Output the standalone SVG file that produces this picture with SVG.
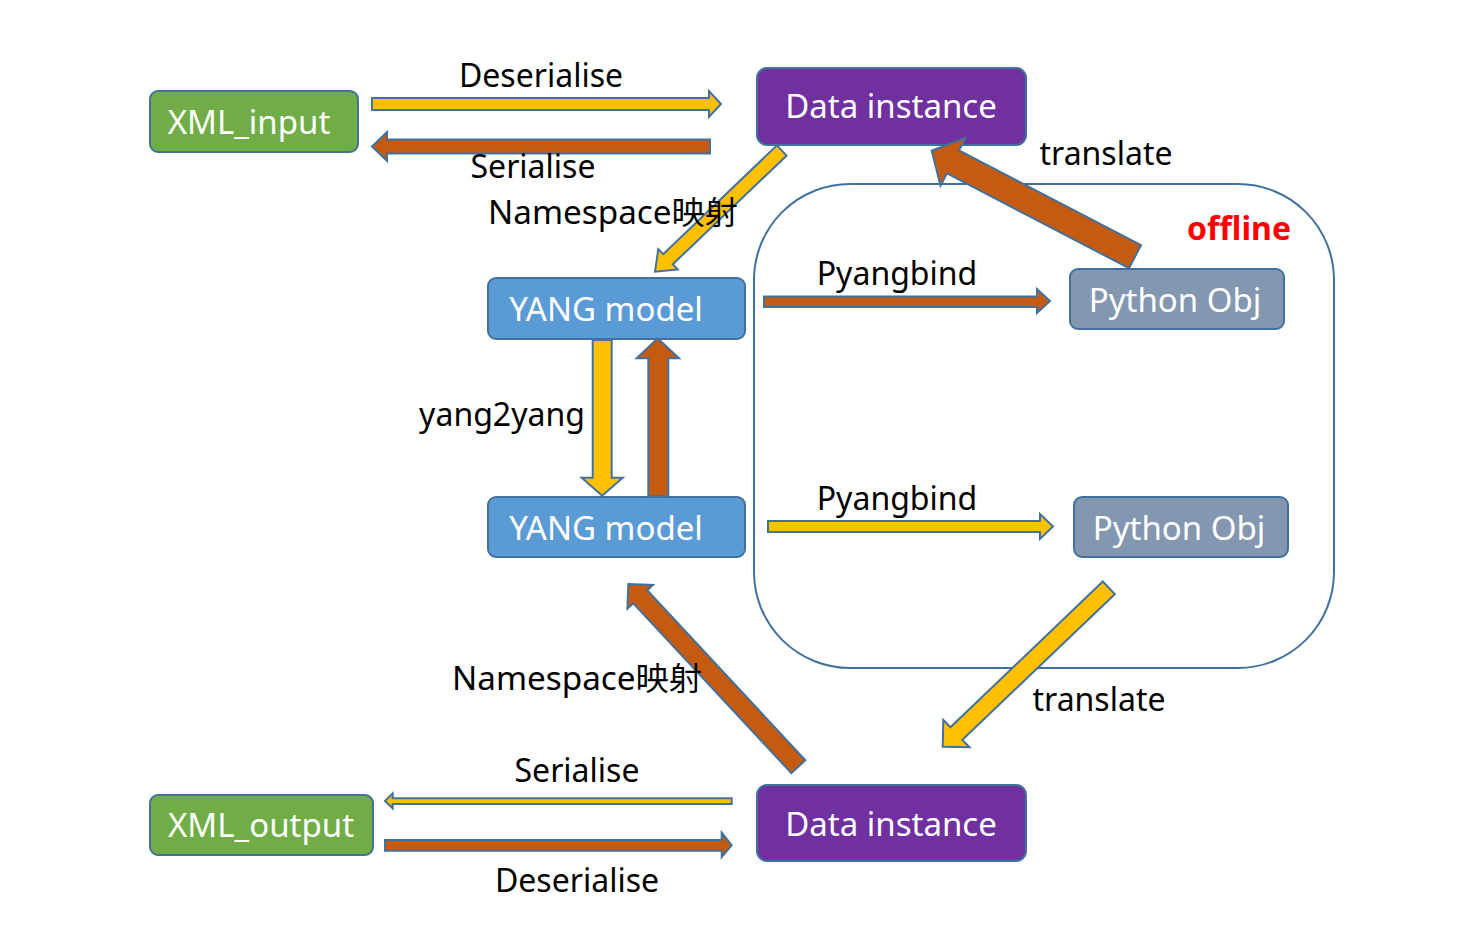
<svg xmlns="http://www.w3.org/2000/svg" width="1468" height="936" viewBox="0 0 1468 936">
<style>
.node{stroke:#41719C;stroke-width:2}
.g{fill:#70AD47}.p{fill:#7030A0}.b{fill:#5B9BD5}.s{fill:#8497B0}
.nt{font-family:"Noto Sans","Noto Sans CJK SC",sans-serif;font-size:33px;fill:#FFFFFF;text-anchor:middle}
.lb{font-family:"Noto Sans","Noto Sans CJK SC",sans-serif;font-size:32px;fill:#000000;text-anchor:middle}
.y{fill:#FFC000;stroke:#41719C;stroke-width:2;stroke-linejoin:miter}
.r{fill:#C55A11;stroke:#41719C;stroke-width:2;stroke-linejoin:miter}
</style>
<rect x="754" y="184" width="580" height="484" rx="96" ry="96" fill="none" stroke="#41719C" stroke-width="2"/>
<g id="xml_input"><rect class="node g" x="150" y="91" width="208" height="61" rx="8"/><text class="nt" x="249" y="134">XML_input</text></g>
<g id="data_instance_top"><rect class="node p" x="757" y="68" width="269" height="77" rx="10"/><text class="nt" x="891" y="118">Data instance</text></g>
<g id="yang_model_1"><rect class="node b" x="488" y="278" width="257" height="61" rx="8"/><text class="nt" x="606" y="321">YANG model</text></g>
<g id="yang_model_2"><rect class="node b" x="488" y="497" width="257" height="60" rx="8"/><text class="nt" x="606" y="540">YANG model</text></g>
<g id="python_obj_1"><rect class="node s" x="1070" y="269" width="214" height="60" rx="8"/><text class="nt" x="1175" y="312">Python Obj</text></g>
<g id="python_obj_2"><rect class="node s" x="1074" y="497" width="214" height="60" rx="8"/><text class="nt" x="1179" y="540">Python Obj</text></g>
<g id="xml_output"><rect class="node g" x="150" y="795" width="223" height="60" rx="8"/><text class="nt" x="261" y="837">XML_output</text></g>
<g id="data_instance_bottom"><rect class="node p" x="757" y="785" width="269" height="76" rx="10"/><text class="nt" x="891" y="836">Data instance</text></g>
<g id="connectors">
<polygon class="y" points="372,98 709,98 709,91 721,104 709,117 709,110 372,110"/>
<polygon class="r" points="710,139.5 387,139.5 387,132 372,146.5 387,161 387,153.5 710,153.5"/>
<polygon class="y" points="776.9,145.4 663.2,254.2 658.3,249.1 655,271.7 677.7,269.4 672.8,264.3 786.5,155.6"/>
<polygon class="r" points="1141,245.2 959,150.3 965.5,137.9 931.7,150.7 940.5,185.7 947,173.3 1129,268.2"/>
<polygon class="r" points="764,296.5 1037,296.5 1037,289 1050,301 1037,313 1037,307 764,307"/>
<polygon class="y" points="768,521 1040,521 1040,514 1053,526.5 1040,539 1040,532 768,532"/>
<polygon class="y" points="592.7,340 611.7,340 611.7,477.7 622.7,477.7 602.2,495.7 581.7,477.7 592.7,477.7"/>
<polygon class="r" points="648.3,496 648.3,358.3 636.7,358.3 657.7,338.3 679,358.3 668.3,358.3 668.3,496"/>
<polygon class="r" points="805.3,760.2 647.2,590.3 653,584.9 628.3,584 627.4,608.7 633.3,603.3 791.4,773.2"/>
<polygon class="y" points="1102.8,581.5 950.4,727.3 943.3,719.9 942.7,746.7 969.5,747.3 962.4,739.9 1114.8,594.1"/>
<polygon class="y" points="731.7,798.3 392.7,798.3 392.7,793.3 385,801 392.7,808.3 392.7,804 731.7,804"/>
<polygon class="r" points="385,840 721.7,840 721.7,832.7 731.7,845.3 721.7,857 721.7,850.7 385,850.7"/>
</g>
<g id="labels">
<text class="lb" x="541" y="87">Deserialise</text>
<text class="lb" x="533" y="178">Serialise</text>
<text class="lb" x="613" y="224" textLength="250" lengthAdjust="spacingAndGlyphs">Namespace映射</text>
<text class="lb" x="1106" y="165">translate</text>
<text class="lb" x="1239" y="240" style="fill:#FF0000;font-weight:bold">offline</text>
<text class="lb" x="897" y="285">Pyangbind</text>
<text class="lb" x="897" y="510">Pyangbind</text>
<text class="lb" x="502" y="426">yang2yang</text>
<text class="lb" x="577" y="690" textLength="250" lengthAdjust="spacingAndGlyphs">Namespace映射</text>
<text class="lb" x="1099" y="711">translate</text>
<text class="lb" x="577" y="782">Serialise</text>
<text class="lb" x="577" y="892">Deserialise</text>
</g>
</svg>
